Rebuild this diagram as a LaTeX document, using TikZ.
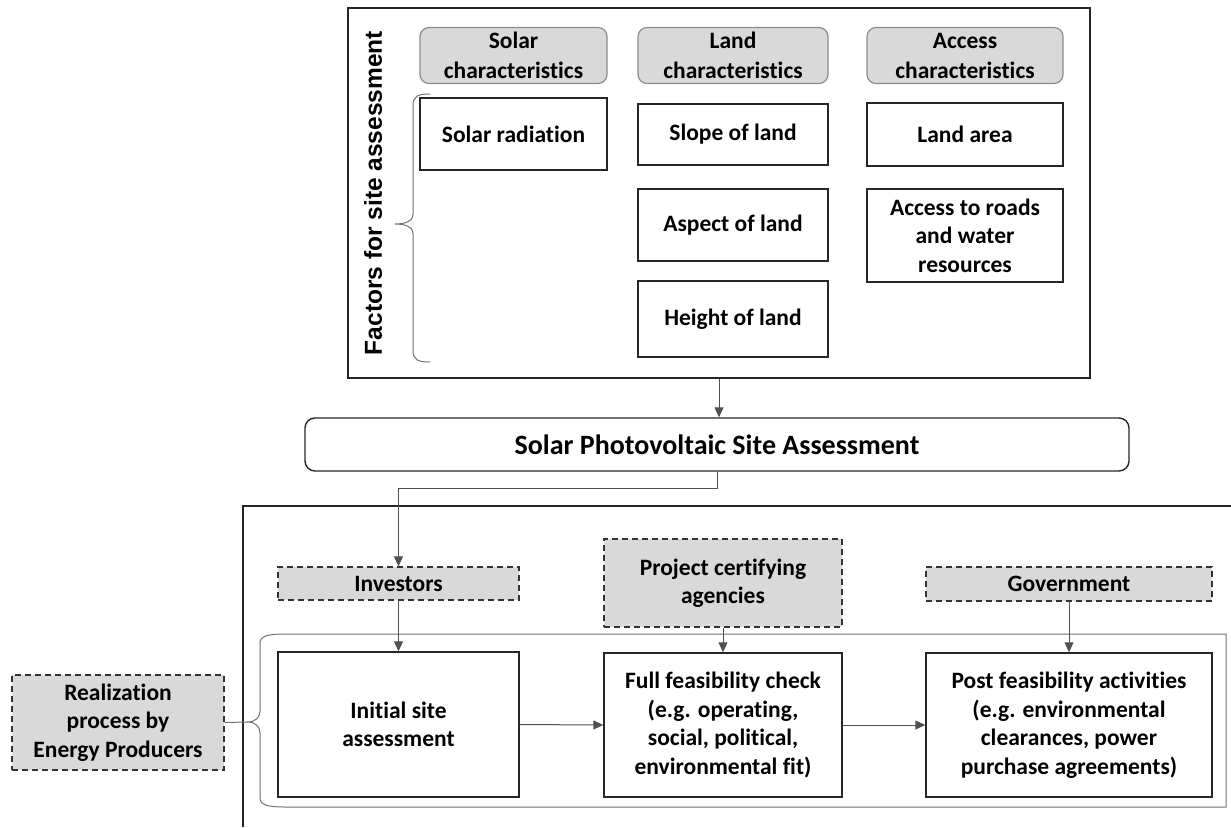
\documentclass[tikz,border=0pt]{standalone}
\usepackage{fontspec}
\setmainfont{Carlito}[Ligatures=NoCommon]
\newfontfamily\arialfont{Liberation Sans}
\usetikzlibrary{arrows.meta}
\definecolor{hdrfill}{HTML}{D9D9D9}
\definecolor{hdrline}{HTML}{8C8C8C}
\definecolor{lnk}{HTML}{505050}
\definecolor{brc}{HTML}{707070}
\tikzset{
  txt/.style={font=\bfseries\fontsize{23.5}{28.5}\selectfont, align=center, inner sep=0pt},
  plainbox/.style={txt, draw=black!85, line width=1.4pt},
  hdrbox/.style={txt, font=\bfseries\fontsize{23.5}{30}\selectfont, draw=hdrline, fill=hdrfill, line width=1.2pt, rounded corners=9pt},
  dashbox/.style={txt, draw=black!80, fill=hdrfill, line width=1.3pt, dash pattern=on 6pt off 4pt},
  arr/.style={draw=lnk, line width=1pt, -{Triangle[length=10pt,width=9pt]}},
  frame/.style={draw=black!85, line width=1.4pt},
  brace/.style={draw=brc, line width=1pt}
}
\begin{document}
\begin{tikzpicture}[x=1pt,y=-1pt]
\useasboundingbox (0,0) rectangle (1231,827);
% top frame
\node[frame, minimum width=742pt, minimum height=370pt, inner sep=0pt] (topbox) at (719,193) {};
% headers
\node[hdrbox, minimum width=187pt, minimum height=56pt] (solarh) at (513.5,55.5) {Solar\\characteristics};
\node[hdrbox, minimum width=190pt, minimum height=56pt] (landh) at (733,55.5) {Land\\characteristics};
\node[hdrbox, minimum width=196pt, minimum height=56pt] (accessh) at (965,55.5) {Access\\characteristics};
% factor boxes
\node[plainbox, minimum width=187pt, minimum height=72pt] (solarrad) at (513.5,134) {Solar radiation};
\node[plainbox, minimum width=190pt, minimum height=61pt] (slope) at (733,134.5) {Slope of land};
\node[plainbox, minimum width=190pt, minimum height=72pt] (aspect) at (733,225) {Aspect of land};
\node[plainbox, minimum width=190pt, minimum height=76pt] (height) at (733,319) {Height of land};
\node[plainbox, minimum width=196pt, minimum height=63pt] (landarea) at (965,134.5) {Land area};
\node[plainbox, minimum width=196pt, minimum height=93pt] (roads) at (965,235.5) {Access to roads\\and water\\resources};
% rotated label
\node[rotate=90, inner sep=0pt, font=\arialfont\bfseries\fontsize{24.5}{28}\selectfont] (factors) at (373,193) {Factors for site assessment};
% brace of factors
\draw[brace] (430,94) .. controls (418,94) and (413,96) .. (413,106) -- (413,214)
  .. controls (413,221) and (406,224) .. (395,224)
  .. controls (406,224) and (413,227) .. (413,234) -- (413,350)
  .. controls (413,360) and (418,362) .. (430,362);
% PV assessment
\node[txt, draw=black!85, line width=1.4pt, rounded corners=10pt, minimum width=824pt, minimum height=53pt, font=\bfseries\fontsize{28}{32}\selectfont] (pv) at (717,444.5) {Solar Photovoltaic Site Assessment};
\draw[arr] (topbox.south) -- (topbox.south |- pv.north);
% bottom frame (open to the right and bottom)
\draw[frame] (1231,506) -- (243,506) -- (243,827);
% actors
\node[dashbox, minimum width=241pt, minimum height=33pt] (inv) at (398.5,583.5) {Investors};
\node[dashbox, minimum width=238pt, minimum height=88pt] (proj) at (723,583) {Project certifying\\agencies};
\node[dashbox, minimum width=286pt, minimum height=34pt] (gov) at (1069,584) {Government};
\draw[arr] (pv.south) -- ++(0,17) -| (inv.north);
% process bracket
\coordinate (brtip) at (247,722);
\draw[brace] (285,634) -- (1226,634) -- (1226,807) -- (285,807)
  .. controls (268,807) and (260,805) .. (260,798) -- (260,733)
  .. controls (260,726) and (255,722) .. (brtip)
  .. controls (255,722) and (260,718) .. (260,711) -- (260,643)
  .. controls (260,636) and (268,634) .. (285,634);
% realization
\node[dashbox, minimum width=212pt, minimum height=95pt] (real) at (118,722.5) {Realization\\process by\\Energy Producers};
\draw[brace] (real.east) -- (brtip);
% process boxes
\node[plainbox, minimum width=241pt, minimum height=145pt] (init) at (398.5,724.5) {Initial site\\assessment};
\node[plainbox, minimum width=238pt, minimum height=144pt] (full) at (723,725) {Full feasibility check\\(e.g. operating,\\social, political,\\environmental fit)};
\node[plainbox, minimum width=286pt, minimum height=144pt] (post) at (1069,725) {Post feasibility activities\\(e.g. environmental\\clearances, power\\purchase agreements)};
% arrows
\draw[arr] (inv.south) -- (inv.south |- init.north);
\draw[arr] (proj.south) -- (full.north);
\draw[arr] (gov.south) -- (post.north);
\draw[arr] (init.east) -- (full.west);
\draw[arr] (full.east) -- (post.west);
\end{tikzpicture}
\end{document}
